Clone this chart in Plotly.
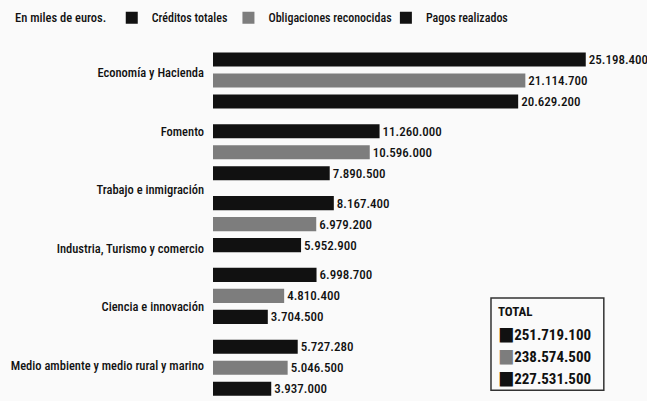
import plotly.graph_objects as go
import numpy as np

# ---- data ----
categories = [
    "Economía y Hacienda",
    "Fomento",
    "Trabajo e inmigración",
    "Industria, Turismo y comercio",
    "Ciencia e innovación",
    "Medio ambiente y medio rural y marino",
]
series_names = ["Créditos totales", "Obligaciones reconocidas", "Pagos realizados"]
creditos = [25198400, 11260000, 8167400, 6998700, 5727280]
obligaciones = [21114700, 10596000, 6979200, 4810400, 5046500]
pagos = [20629200, 7890500, 5952900, 3704500, 3937000]
totales = [251719100, 238574500, 227531500]
unit_note = "En miles de euros."
total_title = "TOTAL"

# ---- style ----
FONT = "Roboto Condensed, Liberation Sans Narrow, DejaVu Sans Condensed, Roboto, sans-serif"
BLACK = "#111111"
GRAY = "#7d7d7d"
colors = [BLACK, GRAY, BLACK]
legend_ids = ["legend", "legend2", "legend3"]
legend_x = [-0.236, 0.036, 0.403]

def es(n):
    return f"{n:,.0f}".replace(",", ".")

groups = list(range(len(creditos)))
fig = go.Figure()
for name, vals, col, lid in zip(series_names, [creditos, obligaciones, pagos], colors, legend_ids):
    fig.add_trace(go.Bar(
        name=name, y=groups, x=vals, orientation="h", legend=lid,
        marker=dict(color=col, line=dict(width=0)),
        text=[es(v) for v in vals], textposition="outside",
        constraintext="none", cliponaxis=False,
        textfont=dict(family=FONT, size=13, color=BLACK, weight=500),
    ))

# category labels spread evenly along the chart height
label_pos = np.linspace(-0.11, 3.97, len(categories))

legend_style = dict(orientation="h", y=1.05, xanchor="left", yanchor="middle",
                    font=dict(family=FONT, size=12, color=BLACK, weight=500),
                    bgcolor="rgba(0,0,0,0)", itemwidth=30)

fig.update_layout(
    width=647, height=401,
    margin=dict(l=213, r=5, t=36, b=1, autoexpand=False),
    paper_bgcolor="#fafafa", plot_bgcolor="#fafafa",
    barmode="group", bargap=0.122, bargroupgap=0.33,
    font=dict(family=FONT, size=13, color=BLACK),
    showlegend=True,
    legend=dict(x=legend_x[0], **legend_style),
    legend2=dict(x=legend_x[1], **legend_style),
    legend3=dict(x=legend_x[2], **legend_style),
    xaxis=dict(range=[0, 29e6], visible=False),
    yaxis=dict(range=[4.45, -0.62], tickvals=label_pos, ticktext=categories,
               showgrid=False, zeroline=False, showline=False, ticks="",
               automargin=False,
               ticklabelstandoff=8,
               tickfont=dict(family=FONT, size=12.5, color=BLACK, weight=500)),
)

fig.add_annotation(text=unit_note, xref="paper", yref="paper", x=-0.466, y=1.05,
                   xanchor="left", yanchor="middle", showarrow=False,
                   font=dict(family=FONT, size=12.5, color=BLACK, weight=500))

# TOTAL box
bx0, by0 = 0.648, 0.28
fig.add_shape(type="rect", xref="paper", yref="paper", x0=bx0, x1=bx0 + 0.263,
              y0=by0 - 0.253, y1=by0, line=dict(color="#333", width=1.5),
              fillcolor="rgba(0,0,0,0)")
fig.add_annotation(text=f"<b>{total_title}</b>", xref="paper", yref="paper",
                   x=bx0 + 0.012, y=by0 - 0.037, xanchor="left", yanchor="middle",
                   showarrow=False, font=dict(family=FONT, size=13, color=BLACK))
for i, (tv, col) in enumerate(zip(totales, colors)):
    fig.add_annotation(
        text=f"<span style='color:{col};font-size:19px'>■</span><b>{es(tv)}</b>",
        xref="paper", yref="paper", x=bx0 + 0.012, y=by0 - 0.098 - i * 0.06,
        xanchor="left", yanchor="middle", showarrow=False,
        font=dict(family=FONT, size=15, color=BLACK))

fig.write_html("out.html", config={"displayModeBar": False},
               post_script="document.body.style.margin='0';")
